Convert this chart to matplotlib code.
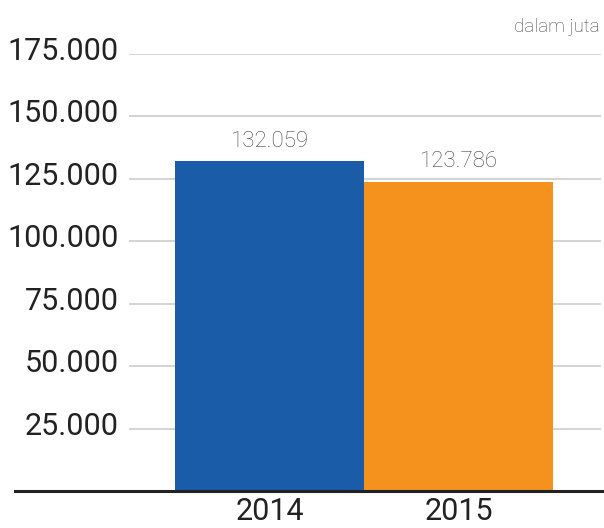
import matplotlib
matplotlib.use("Agg")
import matplotlib.pyplot as plt
import matplotlib.transforms as mtransforms
from matplotlib.ticker import FixedLocator, FuncFormatter

years = ["2014", "2015"]
values = [132059, 123786]
value_labels = ["132.059", "123.786"]
yticks = [25000, 50000, 75000, 100000, 125000, 150000, 175000]
colors = ["#1a5ca8", "#f5921e"]

W, H, DPI = 604, 528, 100
fig = plt.figure(figsize=(W / DPI, H / DPI), dpi=DPI)
left, right = 129 / W, 601 / W
bottom, top = (H - 491) / H, (H - 54) / H
ax = fig.add_axes([left, bottom, right - left, top - bottom])

fam = ["Roboto", "DejaVu Sans"]
x = list(range(len(years)))
ax.bar(x, values, width=1.0, color=colors, zorder=3)
ax.set_xlim(-0.743, 1.751)
ax.set_ylim(0, 175000)

ax.yaxis.set_major_locator(FixedLocator(yticks))
ax.yaxis.set_major_formatter(FuncFormatter(lambda v, p: f"{int(v):,}".replace(",", ".")))
ax.grid(axis="y", color="#c8c8c8", linewidth=1.1, zorder=0)
ax.tick_params(axis="y", length=0, pad=7.5, labelsize=22, labelcolor="#222222")
ax.set_xticks(x)
ax.set_xticklabels(years)
ax.tick_params(axis="x", length=0, pad=4.5, labelsize=22, labelcolor="#222222")
for lab in ax.get_yticklabels() + ax.get_xticklabels():
    lab.set_family(fam)
offset = mtransforms.ScaledTranslation(0, 4 / 72, fig.dpi_scale_trans)
for lab in ax.get_yticklabels():
    lab.set_transform(lab.get_transform() + offset)

for s in ax.spines.values():
    s.set_visible(False)

# baseline extending across figure
ax.plot([15 / W, 1.0], [bottom, bottom], transform=fig.transFigure, color="#222222",
        linewidth=2.2, clip_on=False, zorder=5)

for xi, v, lbl in zip(x, values, value_labels):
    ax.annotate(lbl, (xi, v), xytext=(0, 20), textcoords="offset pixels",
                ha="center", va="center", fontsize=16, color="#444444",
                family=fam, fontweight="light")

fig.text(600 / W, 1 - 27 / H, "dalam juta", ha="right", va="center", fontsize=13.5,
         color="#444444", family=fam, fontweight="light")

fig.savefig("out.png", dpi=DPI)
